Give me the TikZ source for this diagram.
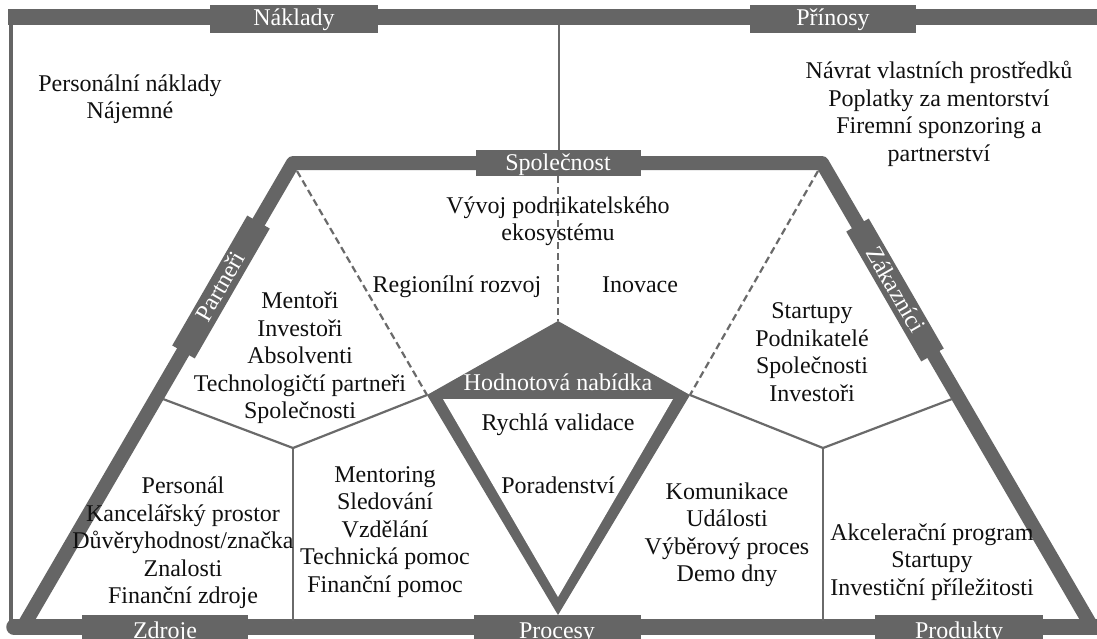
\documentclass[tikz,border=0pt]{standalone}
\usepackage{fontspec}
\setmainfont{Liberation Serif}
\definecolor{bargray}{HTML}{656565}
\definecolor{inkgray}{HTML}{101010}
\definecolor{linegray}{HTML}{6A6A6A}

\begin{document}
\begin{tikzpicture}[x=1pt,y=-1pt,
  every node/.style={font=\fontsize{24}{27.5}\selectfont, text=inkgray, inner sep=0pt},
  block/.style={align=center},
  tag/.style={fill=bargray, text=white, minimum height=27pt, inner sep=0pt,
    text height=19pt, text depth=5pt},
  bar/.style={draw=bargray, line width=15.5pt},
  frame/.style={draw=bargray, line width=14pt, line join=round},
  sep/.style={draw=linegray, line width=2.2pt},
  dsep/.style={draw=linegray, line width=2.2pt, dash pattern=on 7pt off 4pt},
]
\useasboundingbox (0,0) rectangle (1097,638);
\fill[white] (0,0) rectangle (1097,638);
\clip (0,0) rectangle (1097,638);

% outer frame: costs / benefits
\draw[draw=bargray, line width=4.5pt] (11,17) -- (11,627);
\draw[bar] (8,17) -- (1100,17);
\draw[bar, line cap=round] (14,627) -- (1100,627);

% canvas outline
\coordinate (A) at (293,163);
\coordinate (B) at (822,163);
\coordinate (C) at (1092,627);
\coordinate (D) at (23,627);
\draw[frame] (D) -- (A) -- (B) -- (C);

% value proposition corners
\coordinate (vl) at (427,395);
\coordinate (vr) at (690,395);
\coordinate (vt) at (558,321);
\coordinate (vb) at (558,615);

% section labels
\node[tag, minimum width=168pt, minimum height=28pt] (naklady) at (294,18.5) {Náklady};
\node[tag, minimum width=166pt, minimum height=28pt] (prinosy) at (833,18.5) {Přínosy};
\node[tag, minimum width=165pt, minimum height=26pt] (spol) at (558,163) {Společnost};

% separators
\draw[sep] (559,25) -- (559,150);
\draw[dsep] (297,171) -- (vl);
\draw[dsep] (818,171) -- (vr);
\draw[dsep] (spol.south) -- (vt);

\coordinate (jl) at (293,448);
\coordinate (jr) at (823,448);
\coordinate (pl) at (163,399);
\coordinate (pr) at (952,399);
\coordinate (fl) at (293,621);
\coordinate (fr) at (823,621);
\draw[sep] (pl) -- (jl) -- (vl);
\draw[sep] (jl) -- (fl);
\draw[sep] (pr) -- (jr) -- (vr);
\draw[sep] (jr) -- (fr);

% value proposition
\fill[bargray] (vl) -- (vt) -- (vr) -- (vb) -- cycle;
\fill[white] (443,399) -- (673,399) -- (558,597) -- cycle;
\node[text=white] (vp) at (558,382) {Hodnotová nabídka};

% bottom and side labels
\node[tag, minimum width=166pt, minimum height=32pt] (zdroje) at (165,631) {Zdroje};
\node[tag, minimum width=167pt, minimum height=32pt] (procesy) at (557,631) {Procesy};
\node[tag, minimum width=168pt, minimum height=32pt] (produkty) at (959,631) {Produkty};
\node[tag, rotate=60, minimum width=150pt, minimum height=26pt] (partneri) at (221,287) {Partneři};
\node[tag, rotate=-60, minimum width=150pt, minimum height=26pt] (zakaznici) at (895,290) {Zákazníci};

% contents
\node[block] (costs) at (130,99) {Personální náklady\\Nájemné};
\node[block] (benefits) at (939,114) {Návrat vlastních prostředků\\Poplatky za mentorství\\Firemní sponzoring a\\partnerství};
\node[block] (eco) at (558,221) {Vývoj podnikatelského\\ekosystému};
\node (region) at (457,287) {Regionílní rozvoj};
\node (inov) at (640,285) {Inovace};
\node[block] (partners) at (300,358) {Mentoři\\Investoři\\Absolventi\\Technologičtí partneři\\Společnosti};
\node[block] (customers) at (812,352) {Startupy\\Podnikatelé\\Společnosti\\Investoři};
\node (valid) at (558,425) {Rychlá validace};
\node (advice) at (558,485) {Poradenství};
\node[block] (resources) at (183,543) {Personál\\Kancelářský prostor\\Důvěryhodnost/značka\\Znalosti\\Finanční zdroje};
\node[block] (processes) at (385,532) {Mentoring\\Sledování\\Vzdělání\\Technická pomoc\\Finanční pomoc};
\node[block] (channels) at (727,535) {Komunikace\\Události\\Výběrový proces\\Demo dny};
\node[block] (products) at (932,562) {Akcelerační program\\Startupy\\Investiční příležitosti};
\end{tikzpicture}
\end{document}
